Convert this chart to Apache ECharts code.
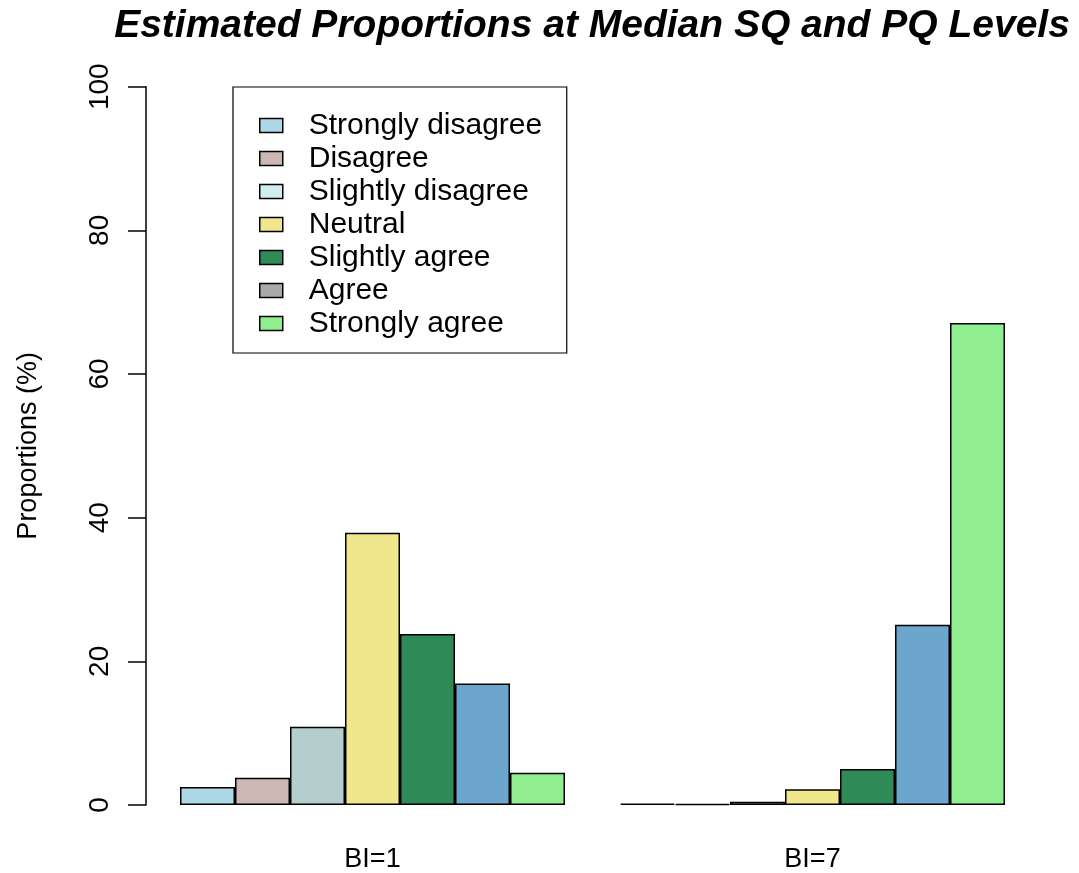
<!DOCTYPE html>
<html>
<head>
<meta charset="utf-8">
<script src="https://cdn.jsdelivr.net/npm/echarts@6/dist/echarts.min.js"></script>
<style>
html,body{margin:0;padding:0;background:#fff;}
#chart{width:1079px;height:873px;}
</style>
</head>
<body>
<div id="chart"></div>
<script>
var categories = ['BI=1', 'BI=7'];
var seriesNames = ['Strongly disagree', 'Disagree', 'Slightly disagree', 'Neutral', 'Slightly agree', 'Agree', 'Strongly agree'];
var stronglyDisagree = [2.5, 0.2];
var disagree = [3.8, 0.15];
var slightlyDisagree = [10.9, 0.45];
var neutral = [37.9, 2.2];
var slightlyAgree = [23.8, 5.0];
var agree = [16.9, 25.1];
var stronglyAgree = [4.5, 67.1];
var yTicks = [0, 20, 40, 60, 80, 100];

var seriesValues = [stronglyDisagree, disagree, slightlyDisagree, neutral, slightlyAgree, agree, stronglyAgree];
var barColors = ['#ADD8E6', '#CDB7B5', '#B4CDCD', '#F0E68C', '#2E8B57', '#6CA6CD', '#90EE90'];
var legendColors = ['#ADD8E6', '#CDB7B5', '#D1EEEE', '#F0E68C', '#2E8B57', '#A9A9A9', '#90EE90'];

var FONT = '"Liberation Sans", Arial, Helvetica, sans-serif';

var chart = echarts.init(document.getElementById('chart'), null, {renderer: 'canvas'});

var series = seriesNames.map(function (name, i) {
  return {
    name: name,
    type: 'bar',
    data: seriesValues[i],
    barGap: '0%',
    barCategoryGap: '12.5%',
    itemStyle: {color: barColors[i], borderColor: '#000', borderWidth: 1.5},
    emphasis: {disabled: true},
    animation: false
  };
});

var option = {
  backgroundColor: '#fff',
  animation: false,
  title: {
    text: 'Estimated Proportions at Median SQ and PQ Levels',
    left: 592,
    top: 7,
    padding: 0,
    textAlign: 'center',
    textStyle: {fontFamily: FONT, fontSize: 39, fontWeight: 'bold', fontStyle: 'italic', color: '#000'}
  },
  legend: {
    orient: 'vertical',
    left: 233,
    top: 87,
    padding: [22, 16, 13, 26],
    borderColor: '#000',
    borderWidth: 1.2,
    backgroundColor: '#fff',
    itemWidth: 23,
    itemHeight: 14,
    itemGap: 0,
    icon: 'rect',
    selectedMode: false,
    textStyle: {fontFamily: FONT, fontSize: 30, color: '#000', lineHeight: 33, width: 242, overflow: 'none', padding: [0, 0, 0, 21]},
    data: seriesNames.map(function (name, i) {
      return {name: name, itemStyle: {color: legendColors[i], borderColor: '#000', borderWidth: 1.5}};
    })
  },
  grid: {left: 152.5, right: 46.5, top: 86.7, bottom: 62, containLabel: false},
  xAxis: {
    type: 'category',
    data: categories,
    axisLine: {show: false},
    axisTick: {show: false},
    axisLabel: {fontFamily: FONT, fontSize: 27, color: '#000', margin: 41}
  },
  yAxis: {
    type: 'value',
    min: 0,
    max: 100,
    interval: 20,
    offset: 6.5,
    name: 'Proportions (%)',
    nameLocation: 'middle',
    nameGap: 104,
    nameTextStyle: {fontFamily: FONT, fontSize: 27, color: '#000'},
    axisLine: {show: true, lineStyle: {color: '#000', width: 1.5}},
    axisTick: {show: true, length: 18, lineStyle: {color: '#000', width: 1.5}},
    splitLine: {show: false},
    axisLabel: {
      fontFamily: FONT, fontSize: 28, color: '#000', rotate: 90, margin: 32,
      formatter: function (v) { return yTicks.indexOf(v) >= 0 ? String(v) : ''; }
    }
  },
  series: series
};

chart.setOption(option);
</script>
</body>
</html>
